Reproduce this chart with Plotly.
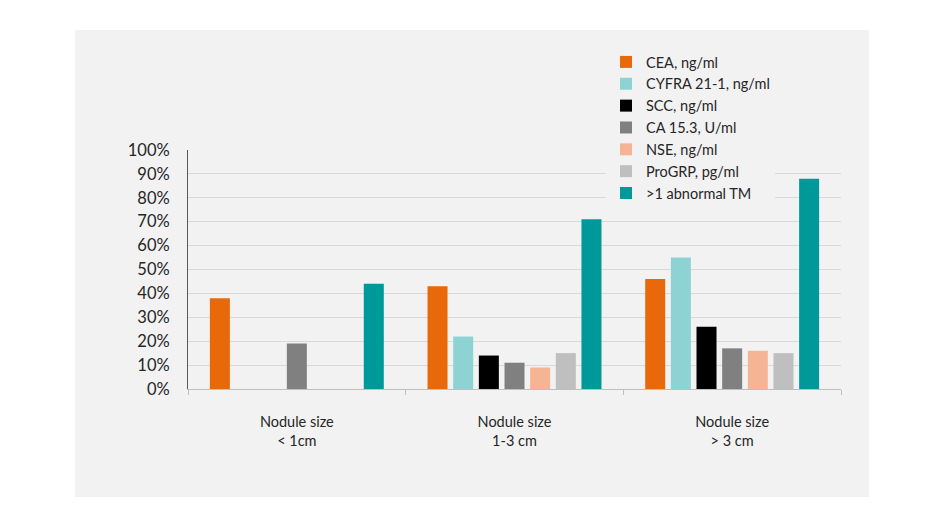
import plotly.graph_objects as go

categories = ["Nodule size<br>< 1cm", "Nodule size<br>1-3 cm", "Nodule size<br>> 3 cm"]
series_names = ["CEA, ng/ml", "CYFRA 21-1, ng/ml", "SCC, ng/ml", "CA 15.3, U/ml",
                "NSE, ng/ml", "ProGRP, pg/ml", ">1 abnormal TM"]
cea = [0.38, 0.43, 0.46]
cyfra = [None, 0.22, 0.55]
scc = [None, 0.14, 0.26]
ca153 = [0.19, 0.11, 0.17]
nse = [None, 0.09, 0.16]
progrp = [None, 0.15, 0.15]
abnormal_tm = [0.44, 0.71, 0.88]
colors = ["#E8690A", "#8DD3D3", "#000000", "#808080", "#F5B494", "#BFBFBF", "#009999"]

values = [cea, cyfra, scc, ca153, nse, progrp, abnormal_tm]

fig = go.Figure()
for name, vals, col in zip(series_names, values, colors):
    fig.add_trace(go.Bar(x=categories, y=vals, name=name, marker_color=col,
                         marker_line_width=0))

OFF = 8  # page offset of the figure in the browser
W, H = 946 - OFF, 532 - OFF
# plot area in screen pixels
SX0, SX1, SY0, SY1 = 188, 841, 150, 389
L, T = SX0 - OFF, SY0 - OFF
pw = SX1 - SX0
ph = SY1 - SY0
R = W - L - pw
B = H - T - ph

def px_x(x):
    return (x - SX0) / pw

def px_y(y):
    return (SY1 - y) / ph

fig.add_shape(type="rect", xref="paper", yref="paper",
              x0=px_x(75), x1=px_x(869), y0=px_y(497), y1=px_y(30),
              fillcolor="#F2F2F2", line_width=0, layer="below")

fig.update_layout(
    width=W, height=H,
    margin=dict(l=L, r=R, t=T, b=B),
    paper_bgcolor="white",
    plot_bgcolor="rgba(0,0,0,0)",
    barmode="group",
    bargap=0.175,
    bargroupgap=0.22,
    font=dict(family="Lato, Open Sans, sans-serif", color="#404040"),
    showlegend=True,
    legend=dict(x=px_x(606), y=px_y(46), xanchor="left", yanchor="top",
                bgcolor="#F2F2F2", font=dict(size=14.5, color="#262626"),
                itemwidth=30, tracegroupgap=0),
    xaxis=dict(showline=True, linecolor="#BFBFBF", linewidth=1,
               ticks="outside", tickson="boundaries", ticklen=5, tickcolor="#BFBFBF",
               ticklabelstandoff=20, tickfont=dict(size=14.5, color="#262626"),
               showgrid=False),
    yaxis=dict(range=[0, 1], dtick=0.1, tickformat=".0%", showline=True,
               linecolor="#595959", linewidth=1, gridcolor="#D9D9D9",
               zeroline=False, ticks="", tickfont=dict(size=16.5, color="#262626"),
               ticklabelstandoff=14),
)

fig.write_html("out.html")
